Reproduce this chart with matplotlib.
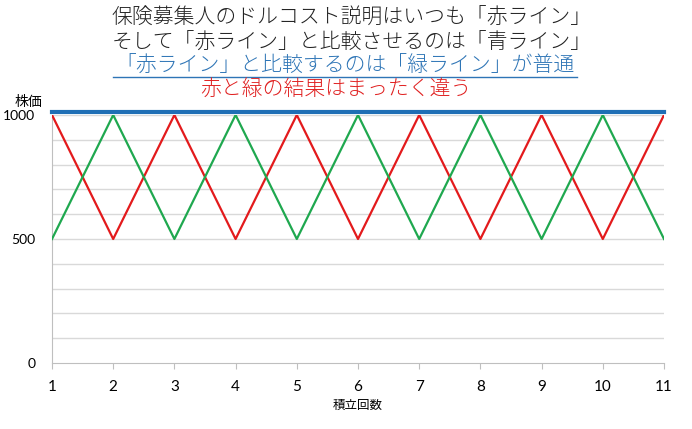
import matplotlib
matplotlib.use("Agg")
import matplotlib.pyplot as plt

plt.rcParams["font.family"] = ["Noto Sans CJK JP", "DejaVu Sans"]

# data
rounds = [1, 2, 3, 4, 5, 6, 7, 8, 9, 10, 11]
red_line = [1000, 500, 1000, 500, 1000, 500, 1000, 500, 1000, 500, 1000]
green_line = [500, 1000, 500, 1000, 500, 1000, 500, 1000, 500, 1000, 500]
blue_line = [1012] * 11
y_ticks = [0, 500, 1000]

titles = [
    ("保険募集人のドルコスト説明はいつも「赤ライン」", "#222222"),
    ("そして「赤ライン」と比較させるのは「青ライン」", "#222222"),
    ("「赤ライン」と比較するのは「緑ライン」が普通", "#2E75B6"),
    ("赤と緑の結果はまったく違う", "#E02020"),
]

fig = plt.figure(figsize=(6.92, 4.29), dpi=100)
ax = fig.add_axes([52 / 692, 1 - 363 / 429, (664 - 52) / 692, (363 - 115) / 429])
ax.set_ylim(0, 1000)
ax.set_xlim(1, 11)

for y in range(100, 1001, 100):
    ax.axhline(y, color="#d9d9d9", lw=1, zorder=0)

ax.plot(rounds, red_line, color="#E31A1C", lw=1.6, zorder=3)
ax.plot(rounds, green_line, color="#1FA84F", lw=1.6, zorder=3)
ax.plot(rounds, blue_line, color="#1F6FB5", lw=3, zorder=4, clip_on=False)

ax.set_xticks(rounds)
ax.set_yticks(y_ticks)
ax.tick_params(axis="x", length=4, color="#bfbfbf", labelsize=11, pad=8)
ax.tick_params(axis="y", length=0, labelsize=10, pad=12)
for lab in ax.get_xticklabels() + ax.get_yticklabels():
    lab.set_fontfamily(["Lato", "DejaVu Sans"])
for side in ["top", "right"]:
    ax.spines[side].set_visible(False)
for side in ["left", "bottom"]:
    ax.spines[side].set_color("#bfbfbf")
ax.set_xlabel("積立回数", fontsize=9)

fig.text(28 / 692, 1 - 102 / 429, "株価", fontsize=10, ha="center", va="center")

ys = [18, 43, 66, 90]
xs = [352, 352, 345, 336]
for (txt, col), y, x in zip(titles, ys, xs):
    fig.text(x / 692, 1 - y / 429, txt, fontsize=15, color=col,
             ha="center", va="center", fontweight="light")
    if col == "#2E75B6":
        fig.add_artist(plt.Line2D([113 / 692, 577 / 692], [1 - 77 / 429] * 2, color=col, lw=1))

fig.savefig("out.png", dpi=100)
